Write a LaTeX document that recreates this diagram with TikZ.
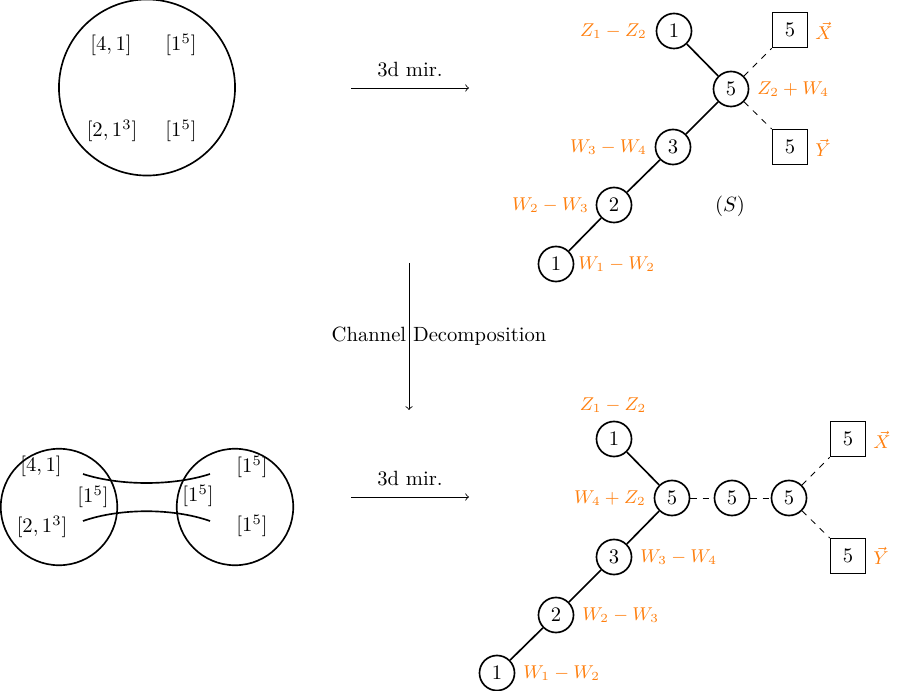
\documentclass[tikz,border=0pt]{standalone}
\usepackage{amsmath}
\definecolor{myorange}{RGB}{255,127,14}
\begin{document}
\begin{tikzpicture}[x=0.485pt,y=-0.485pt,
  gnode/.style={circle,draw,thick,minimum size=17pt,inner sep=0pt},
  fnode/.style={rectangle,draw,thick,minimum size=17pt,inner sep=0pt},
  lab/.style={text=myorange,inner sep=0pt,font=\small},
  txt/.style={inner sep=0pt},
  sol/.style={thick},
  dsh/.style={dashed},
  arr/.style={->},
  bigc/.style={circle,draw,thick,inner sep=0pt}]
\useasboundingbox (0,0) rectangle (897,691);

% ---------- top left disc ----------
\node[bigc,minimum size=85.4pt] (D) at (147,87.5) {};
\node[txt] (t41) at (111,45) {$[4,1]$};
\node[txt] (t15a) at (181,45) {$[1^5]$};
\node[txt] (t213) at (112,131) {$[2,1^3]$};
\node[txt] (t15b) at (181,131) {$[1^5]$};

% ---------- top arrow ----------
\coordinate (a1s) at (351,88);
\coordinate (a1e) at (469,88);
\draw[arr] (a1s) -- node[above,txt,yshift=5pt] (a1l) {3d mir.} (a1e);

% ---------- top right quiver ----------
\node[gnode] (u1) at (674,31) {$1$};
\node[gnode] (u5) at (731,89) {$5$};
\node[fnode] (uX) at (790,30) {$5$};
\node[fnode] (uY) at (790,147) {$5$};
\node[gnode] (u3) at (673,147) {$3$};
\node[gnode] (u2) at (614,205) {$2$};
\node[gnode] (u0) at (556,264) {$1$};
\draw[sol] (u1) -- (u5);
\draw[sol] (u5) -- (u3);
\draw[sol] (u3) -- (u2);
\draw[sol] (u2) -- (u0);
\draw[dsh] (u5) -- (uX);
\draw[dsh] (u5) -- (uY);
\node[lab,anchor=east] (lu1) at (647,31) {$Z_1-Z_2$};
\node[lab,anchor=west] (lu5) at (757,89) {$Z_2+W_4$};
\node[lab,anchor=west] (luX) at (815,31) {$\vec{X}$};
\node[lab,anchor=west] (luY) at (815,148) {$\vec{Y}$};
\node[lab,anchor=east] (lu3) at (647,147) {$W_3-W_4$};
\node[lab,anchor=east] (lu2) at (589,205) {$W_2-W_3$};
\node[lab,anchor=west] (lu0) at (578,264) {$W_1-W_2$};
\node[txt] (S) at (730,206) {$(S)$};

% ---------- vertical arrow ----------
\coordinate (vs) at (409,263);
\coordinate (ve) at (409,410);
\draw[arr] (vs) -- (ve);
\node[txt] (vl) at (439,336) {Channel Decomposition};

% ---------- bottom left discs ----------
\node[bigc,minimum size=56.5pt] (L) at (59,507) {};
\node[bigc,minimum size=56.5pt] (R) at (235,507) {};
\coordinate (c1a) at (83,474);
\coordinate (c1b) at (210,474);
\coordinate (c2a) at (83,521);
\coordinate (c2b) at (210,521);
\draw[thick] (c1a) .. controls (120,486) and (173,486) .. (c1b);
\draw[thick] (c2a) .. controls (120,508) and (173,508) .. (c2b);
\node[txt] (b41) at (41,466) {$[4,1]$};
\node[txt] (b15i) at (93,497) {$[1^5]$};
\node[txt] (b213) at (42,527) {$[2,1^3]$};
\node[txt] (b15r1) at (252,467) {$[1^5]$};
\node[txt] (b15ri) at (198,496) {$[1^5]$};
\node[txt] (b15r2) at (252,526) {$[1^5]$};

% ---------- bottom arrow ----------
\coordinate (a2s) at (351,497);
\coordinate (a2e) at (469,497);
\draw[arr] (a2s) -- node[above,txt,yshift=5pt] (a2l) {3d mir.} (a2e);

% ---------- bottom right quiver ----------
\node[gnode] (d1) at (614,439) {$1$};
\node[gnode] (d5) at (672,498) {$5$};
\node[gnode] (d5b) at (732,498) {$5$};
\node[gnode] (d5c) at (789,498) {$5$};
\node[fnode] (dX) at (848,439) {$5$};
\node[fnode] (dY) at (848,556) {$5$};
\node[gnode] (d3) at (614,557) {$3$};
\node[gnode] (d2) at (556,615) {$2$};
\node[gnode] (d0) at (497,673) {$1$};
\draw[sol] (d1) -- (d5);
\draw[sol] (d5) -- (d3);
\draw[sol] (d3) -- (d2);
\draw[sol] (d2) -- (d0);
\draw[dsh] (d5) -- (d5b);
\draw[dsh] (d5b) -- (d5c);
\draw[dsh] (d5c) -- (dX);
\draw[dsh] (d5c) -- (dY);
\node[lab] (ld1) at (613,405) {$Z_1-Z_2$};
\node[lab,anchor=east] (ld5) at (646,498) {$W_4+Z_2$};
\node[lab,anchor=west] (ldX) at (873,440) {$\vec{X}$};
\node[lab,anchor=west] (ldY) at (873,556) {$\vec{Y}$};
\node[lab,anchor=west] (ld3) at (640,557) {$W_3-W_4$};
\node[lab,anchor=west] (ld2) at (582,615) {$W_2-W_3$};
\node[lab,anchor=west] (ld0) at (523,673) {$W_1-W_2$};
\end{tikzpicture}
\end{document}
